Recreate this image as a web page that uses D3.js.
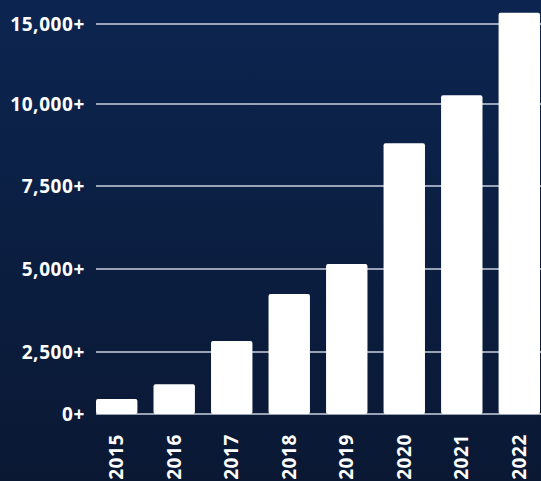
<!DOCTYPE html>
<html>
<head>
<meta charset="utf-8">
<script src="https://cdn.jsdelivr.net/npm/d3@7"></script>
<style>
  html, body { margin: 0; padding: 0; background: #0b1d3d; }
  svg { display: block; }
  text { font-family: "Open Sans", sans-serif; font-weight: 700; fill: #ffffff; letter-spacing: 0.6px; }
</style>
</head>
<body>
<svg></svg>
<script>
// 数据
var years = ["2015", "2016", "2017", "2018", "2019", "2020", "2021", "2022"];
var counts = [600, 1200, 2830, 4250, 5150, 8800, 10550, 15700];
var tickValues = [0, 2500, 5000, 7500, 10000, 15000];
var tickLabels = ["0+", "2,500+", "5,000+", "7,500+", "10,000+", "15,000+"];

var W = 541, H = 481;
var svg = d3.select('svg')
  .attr('width', W)
  .attr('height', H);

// 背景渐变
var defs = svg.append('defs');
var grad = defs.append('linearGradient')
  .attr('id', 'bg')
  .attr('x1', 0).attr('y1', 0).attr('x2', 0).attr('y2', 1);
grad.append('stop').attr('offset', '0%').attr('stop-color', '#0c2550');
grad.append('stop').attr('offset', '100%').attr('stop-color', '#0a1833');
svg.append('rect')
  .attr('width', W).attr('height', H)
  .attr('fill', 'url(#bg)');

// 比例尺 (刻度间距不均匀, 分段线性)
var xScale = d3.scaleBand()
  .domain(years)
  .range([96, 540])
  .paddingInner(0.28)
  .paddingOuter(0);

var yScale = d3.scaleLinear()
  .domain(tickValues)
  .range([414, 352, 269, 186, 104, 24]);

// 网格线
svg.append('g')
  .selectAll('line')
  .data(tickValues)
  .enter()
  .append('line')
  .attr('x1', 96)
  .attr('x2', W)
  .attr('y1', d => yScale(d))
  .attr('y2', d => yScale(d))
  .attr('stroke', '#c9d1de')
  .attr('stroke-width', 1.5);

// 柱子
svg.append('g')
  .selectAll('rect')
  .data(counts)
  .enter()
  .append('rect')
  .attr('x', (d, i) => xScale(years[i]))
  .attr('y', d => yScale(d))
  .attr('width', xScale.bandwidth())
  .attr('height', d => yScale(0) - yScale(d))
  .attr('rx', 2)
  .attr('fill', '#ffffff');

// y轴标签
svg.append('g')
  .selectAll('text')
  .data(tickValues)
  .enter()
  .append('text')
  .attr('x', 85)
  .attr('y', d => yScale(d))
  .attr('dy', '0.35em')
  .style('text-anchor', 'end')
  .style('font-size', '19px')
  .text((d, i) => tickLabels[i]);

// x轴标签 (竖排)
svg.append('g')
  .selectAll('text')
  .data(years)
  .enter()
  .append('text')
  .attr('transform', d => 'translate(' + (xScale(d) + xScale.bandwidth() / 2) + ',434) rotate(-90)')
  .attr('dy', '0.35em')
  .style('text-anchor', 'end')
  .style('font-size', '19px')
  .text(d => d);
</script>
</body>
</html>
